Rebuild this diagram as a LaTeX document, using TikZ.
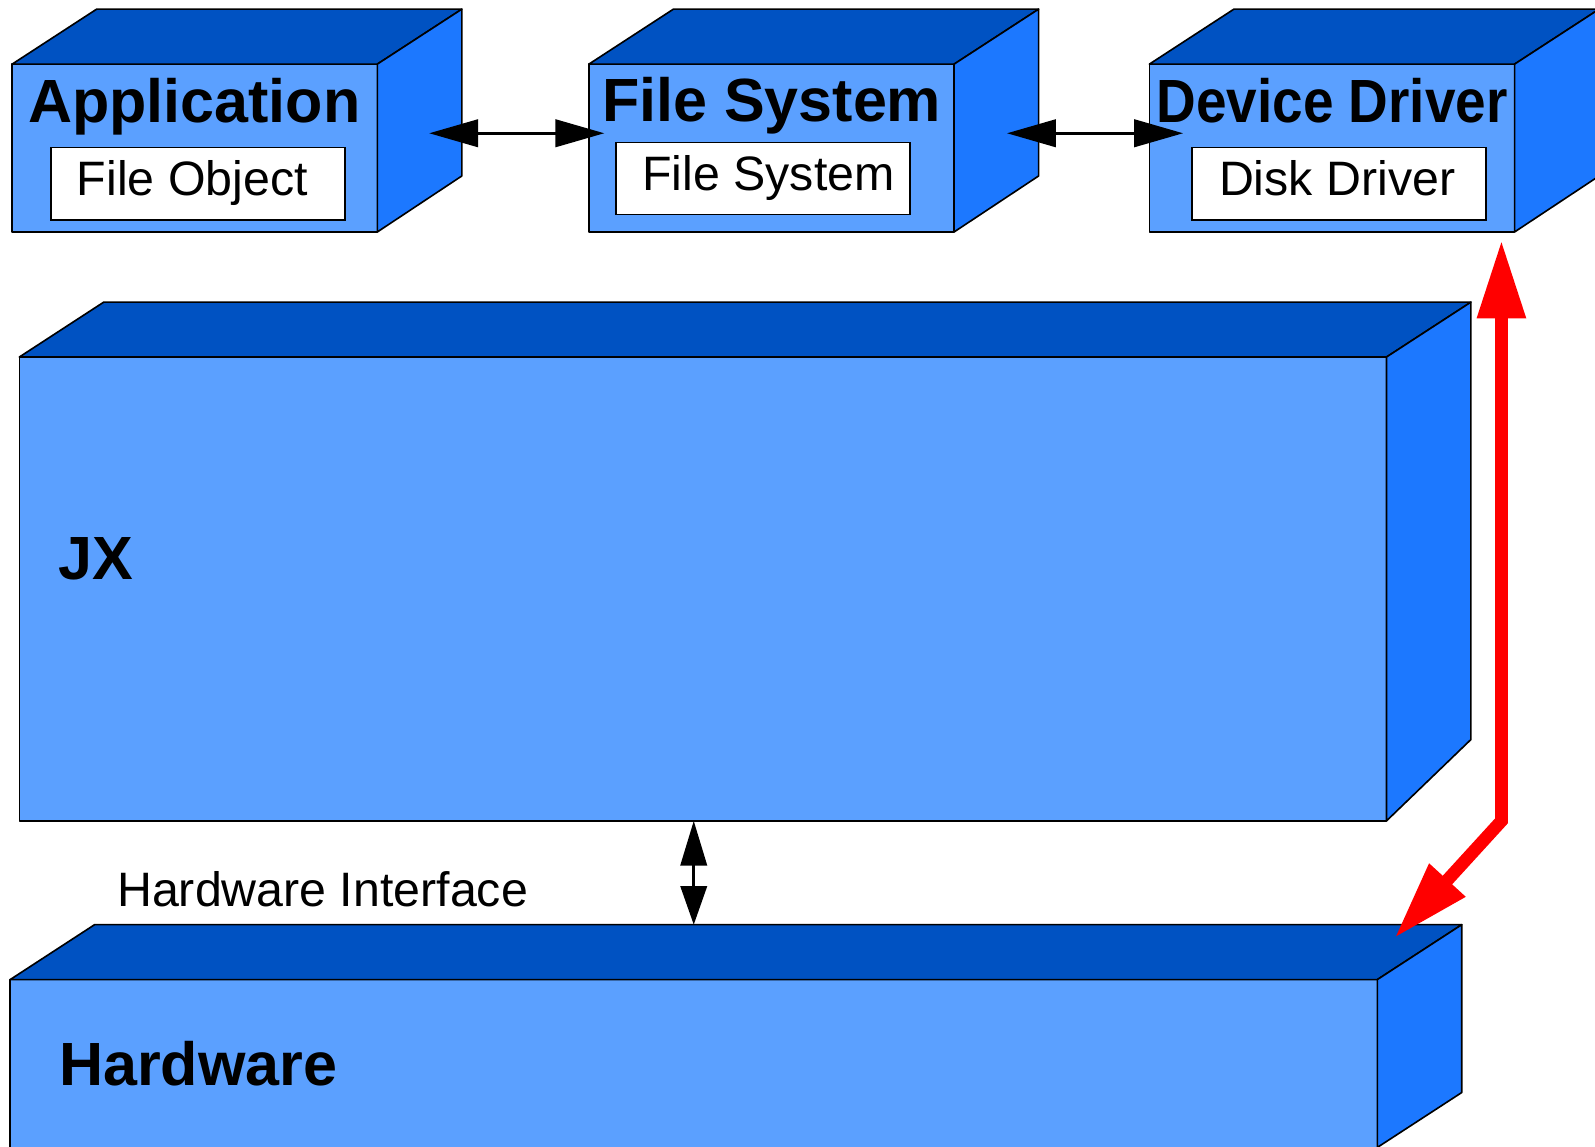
\documentclass[tikz,border=0pt]{standalone}
\usepackage{fontspec}
\setmainfont{Liberation Sans}
\usetikzlibrary{arrows.meta,calc}
\definecolor{frontblue}{RGB}{91,160,255}
\definecolor{sideblue}{RGB}{28,120,255}
\definecolor{topblue}{RGB}{0,82,194}
\newcommand\titlefont{\fontsize{60}{70}\selectfont\bfseries}
\newcommand\labelfont{\fontsize{47.5}{56}\selectfont}
\newcommand\boxfaces[2]{%
  \draw[topface] (#1.north west) -- ++(83,54) -- ($(#1.north east)+(83,54)$) -- (#1.north east) -- cycle;
  \draw[sideface] (#1.north east) -- ++(83,54) -- ++(0,#2) -- (#1.south east) -- cycle;}
\begin{document}
\begin{tikzpicture}[x=1pt,y=1pt,
  face/.style={draw=black,line width=1.6pt,line join=round},
  front/.style={face,fill=frontblue,inner sep=0pt,outer sep=0pt},
  topface/.style={face,fill=topblue},
  sideface/.style={face,fill=sideblue},
  innerbox/.style={draw=black,line width=1.6pt,fill=white,minimum width=289pt,minimum height=71pt,inner sep=0pt,outer sep=0pt,font=\labelfont,text height=34pt,text depth=10pt},
  title/.style={font=\titlefont,anchor=base,inner sep=0pt},
  lbl/.style={font=\labelfont,inner sep=0pt},
  blk/.style={line width=2.5pt,{Triangle[length=48pt,width=27pt]}-{Triangle[length=48pt,width=27pt]}},
  vblk/.style={line width=2.5pt,{Triangle[length=44pt,width=26pt]}-{Triangle[length=38pt,width=26pt]}},
  redarrow/.style={red,line width=12.5pt,line join=miter,{Triangle[length=77pt,width=45pt]}-{Triangle[length=77pt,width=45pt]}}
]
\useasboundingbox (0,0) rectangle (1568,-1127);
\clip (0,0) rectangle (1568,-1127);

% top row boxes
\node[front,minimum width=359pt,minimum height=165pt] (app) at (191.5,-145.5) {};
\boxfaces{app}{-164}
\node[front,minimum width=359pt,minimum height=165pt] (fs) at (758.5,-145.5) {};
\boxfaces{fs}{-164}
\node[front,minimum width=359pt,minimum height=165pt] (dd) at (1309.5,-145.5) {};
\boxfaces{dd}{-164}

\node[title] (apptitle) at (191,-120) {Application};
\node[title] (fstitle) at (758.6,-119) {File System};
\node[title] (ddtitle) at (1309.5,-120) {\scalebox{0.9}[1]{Device Driver}};

\node[innerbox] (fileobj) at (194.5,-180.5) {\hspace*{-11pt}File Object};
\node[innerbox] (fsinner) at (750,-175.5) {\hspace*{11pt}File System};
\node[innerbox] (disk) at (1316.5,-180.5) {\hspace*{-4pt}Disk Driver};

% JX box
\node[front,minimum width=1344pt,minimum height=456pt] (jx) at (691,-579) {};
\boxfaces{jx}{-430}
\node[title,anchor=base west] (jxlabel) at (57,-570) {JX};

% Hardware box
\node[front,minimum width=1344pt,minimum height=197pt] (hw) at (682,-1061.5) {};
\draw[topface] (hw.north west) -- ++(83,54) -- ($(hw.north east)+(83,54)$) -- (hw.north east) -- cycle;
\draw[sideface] (hw.north east) -- ++(83,54) -- ++(0,-165) -- ($(hw.north east)+(0,-165)$) -- cycle;
\node[title,anchor=base west] (hwlabel) at (58,-1067) {Hardware};

\node[lbl,anchor=base west] (hwif) at (115,-891) {Hardware Interface};

% connectors
\draw[blk] ($(app.east)+(51,14.5)$) -- ($(fs.west)+(15,14.5)$);
\draw[blk] ($(fs.east)+(52,14.5)$) -- ($(dd.west)+(33,14.5)$);
\draw[vblk] (jx.south -| hw.north) -- ($(hw.north)+(0,54)$);
\draw[redarrow] ($(dd.south east)+(-13,-8)$) -- ($(jx.south -| dd.south east)+(-13,0)$) -- ($(hw.north east)+(17,41)$);
\end{tikzpicture}
\end{document}
